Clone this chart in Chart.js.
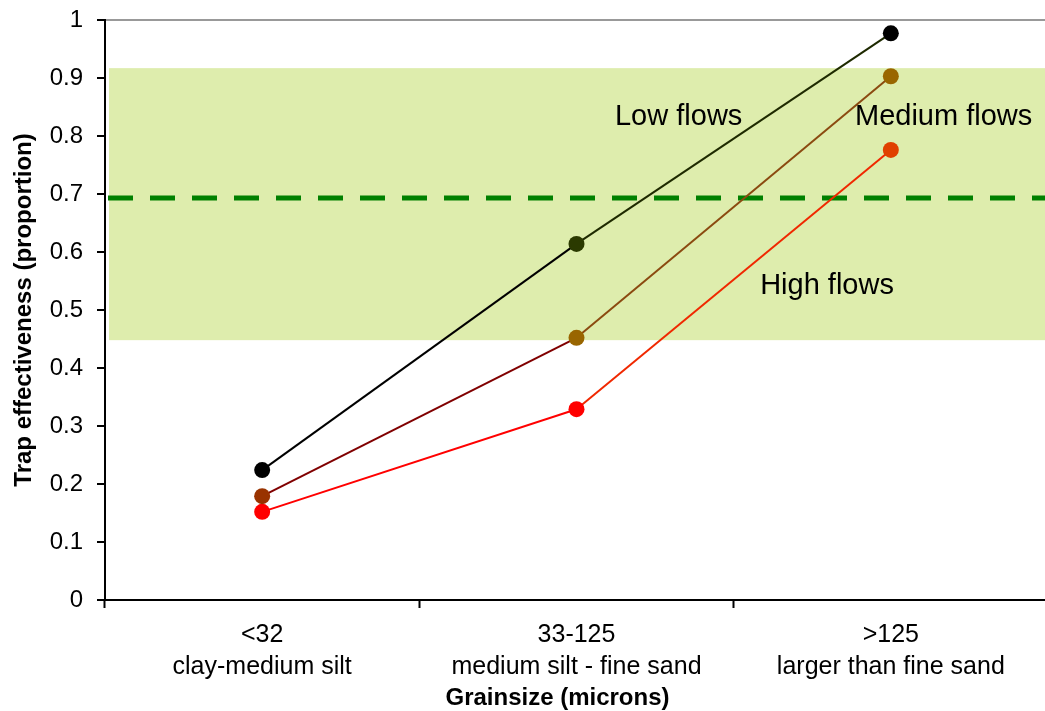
<!DOCTYPE html>
<html>
<head>
<meta charset="utf-8">
<script src="https://cdn.jsdelivr.net/npm/chart.js@4/dist/chart.umd.min.js"></script>
<style>
  html, body { margin: 0; padding: 0; background: #fff; overflow: hidden; }
  #wrap { width: 1056px; height: 711px; }
</style>
</head>
<body>
<div id="wrap"><canvas id="trap" width="1056" height="711"></canvas></div>
<script>
// Categories along the x-axis (two lines each)
const grainSizes = [
  ['<32', 'clay-medium silt'],
  ['33-125', 'medium silt - fine sand'],
  ['>125', 'larger than fine sand']
];
// Trap effectiveness per flow condition
const lowFlows = [0.224, 0.614, 0.977];
const mediumFlows = [0.179, 0.452, 0.903];
const highFlows = [0.152, 0.329, 0.776];
// Shaded range and dashed reference level
const bandRange = [0.448, 0.917];
const referenceLevel = 0.693;
// Text labels on the plot
const flowNames = ['Low flows', 'Medium flows', 'High flows'];

const FONT = "'Liberation Sans', Arial, sans-serif";

// where the flow labels sit (category index, value)
const labelSpots = [
  { x: 1.325, y: 0.832 },
  { x: 2.168, y: 0.832 },
  { x: 1.797, y: 0.541 }
];

const backdrop = {
  id: 'backdrop',
  beforeDatasetsDraw(chart) {
    const { ctx, chartArea, scales } = chart;
    const y = scales.y;
    ctx.save();
    // green band
    const top = y.getPixelForValue(bandRange[1]);
    const bottom = y.getPixelForValue(bandRange[0]);
    ctx.fillStyle = '#DEEDAD';
    ctx.fillRect(chartArea.left + 4, top, chartArea.right - chartArea.left - 4, bottom - top);
    // dashed line
    const yl = y.getPixelForValue(referenceLevel);
    ctx.strokeStyle = '#008000';
    ctx.lineWidth = 5;
    ctx.setLineDash([25, 17]);
    ctx.beginPath();
    ctx.moveTo(chartArea.left + 3, yl);
    ctx.lineTo(chartArea.right, yl);
    ctx.stroke();
    ctx.restore();
  },
  afterDraw(chart) {
    const { ctx, chartArea, scales } = chart;
    ctx.save();
    ctx.fillStyle = '#000';
    ctx.textAlign = 'center';
    ctx.textBaseline = 'middle';
    ctx.font = '29px ' + FONT;
    flowNames.forEach((name, i) => {
      ctx.fillText(name, scales.x.getPixelForValue(labelSpots[i].x), scales.y.getPixelForValue(labelSpots[i].y));
    });
    // x-axis title
    ctx.font = 'bold 24px ' + FONT;
    ctx.fillText('Grainsize (microns)', (chartArea.left + chartArea.right) / 2 - 19, 698);
    ctx.restore();
  }
};

new Chart(document.getElementById('trap'), {
  type: 'line',
  data: {
    labels: grainSizes,
    datasets: [
      {
        label: 'Low flows',
        data: lowFlows,
        borderWidth: 2,
        pointRadius: 8,
        pointHoverRadius: 8,
        pointBorderWidth: 0,
        pointBackgroundColor: ['#000000', '#2B3A00', '#000000'],
        segment: { borderColor: c => ['#000000', '#1E2A00'][c.p0DataIndex] },
        borderColor: '#000000'
      },
      {
        label: 'Medium flows',
        data: mediumFlows,
        borderWidth: 2,
        pointRadius: 8,
        pointHoverRadius: 8,
        pointBorderWidth: 0,
        pointBackgroundColor: ['#993300', '#996600', '#996600'],
        segment: { borderColor: c => ['#800000', '#8B4A10'][c.p0DataIndex] },
        borderColor: '#800000'
      },
      {
        label: 'High flows',
        data: highFlows,
        borderWidth: 2,
        pointRadius: 8,
        pointHoverRadius: 8,
        pointBorderWidth: 0,
        pointBackgroundColor: ['#FF0000', '#FF0000', '#E04000'],
        segment: { borderColor: c => ['#FF0000', '#F02800'][c.p0DataIndex] },
        borderColor: '#FF0000'
      }
    ]
  },
  options: {
    responsive: false,
    animation: false,
    layout: { padding: { top: 20, right: 1, left: 0, bottom: 0 } },
    plugins: { legend: { display: false }, tooltip: { enabled: false } },
    scales: {
      x: {
        offset: true,
        afterFit: s => {
          s.height = 111;
          s.paddingLeft = 0;
          s.paddingRight = 0;
        },
        grid: { offset: true, color: 'transparent', tickColor: '#000', tickLength: 8, tickWidth: 2 },
        border: { color: '#000', width: 2 },
        ticks: {
          color: '#000',
          padding: 11,
          maxRotation: 0,
          font: { family: FONT, size: 25, lineHeight: 1.28 }
        }
      },
      y: {
        min: 0,
        max: 1,
        afterFit: s => {
          s.width = 105;
          s.paddingTop = 0;
          s.paddingBottom = 0;
        },
        grid: {
          color: c => (c.tick && c.tick.value === 1 ? '#999999' : 'transparent'),
          lineWidth: 2,
          tickColor: '#000',
          tickLength: 8,
          tickWidth: 2
        },
        border: { color: '#000', width: 2 },
        ticks: {
          stepSize: 0.1,
          color: '#000',
          padding: 14,
          font: { family: FONT, size: 24 },
          callback: v => String(Math.round(v * 10) / 10)
        },
        title: {
          display: true,
          text: 'Trap effectiveness (proportion)',
          color: '#000',
          font: { family: FONT, size: 24, weight: 'bold' },
          padding: { top: 10, bottom: 0 }
        }
      }
    }
  },
  plugins: [backdrop]
});
</script>
</body>
</html>
